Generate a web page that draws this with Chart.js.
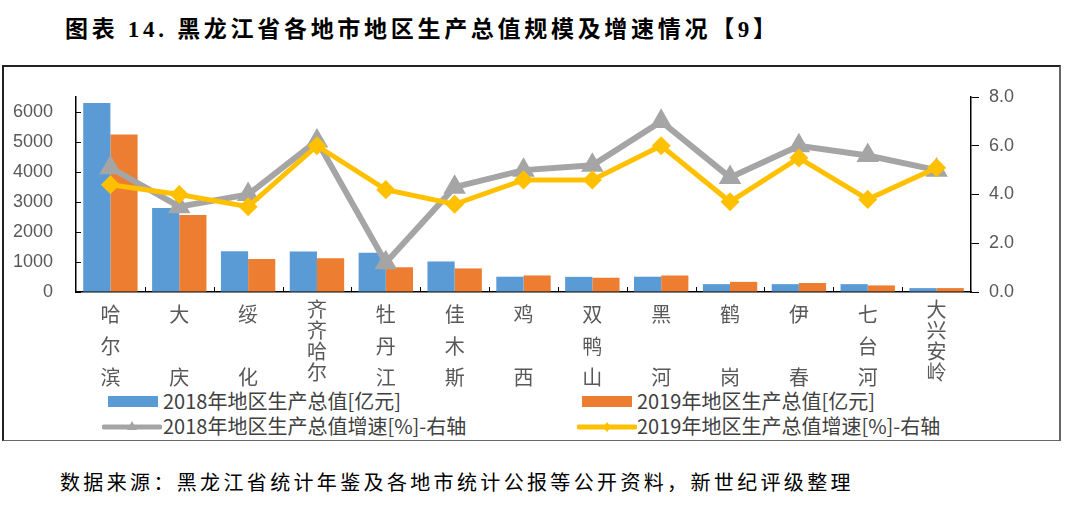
<!DOCTYPE html>
<html>
<head>
<meta charset="utf-8">
<title></title>
<script src="https://cdn.jsdelivr.net/npm/chart.js"></script>
<style>
  body { margin: 0; background: #fff; width: 1080px; height: 518px; position: relative; overflow: hidden; }
  .title { position: absolute; left: 65px; top: 10px; font: bold 23px "Liberation Serif", "Noto Sans CJK SC"; letter-spacing: 3.7px; color: #000; white-space: nowrap; }
  .frame { position: absolute; left: 2px; top: 65px; width: 1055px; height: 373px; border-top: 2px solid #222; border-left: 2px solid #222; border-right: 2px solid #666; border-bottom: 1.5px solid #666; }
  .lg { position: absolute; font: 20px "Noto Sans CJK SC"; color: #404040; white-space: nowrap; line-height: 24px; }
  .sw { position: absolute; }
  .source { position: absolute; left: 60px; top: 467px; font: 20px "Noto Sans CJK SC"; letter-spacing: 3.35px; color: #000; white-space: nowrap; }
  #wrap { position: absolute; left: 0; top: 0; width: 1080px; height: 518px; }
</style>
</head>
<body>
<div class="title">图表 14. 黑龙江省各地市地区生产总值规模及增速情况【9】</div>
<div class="frame"></div>

<div class="sw" style="left:108px;top:396px;width:50px;height:11px;background:#5B9BD5"></div>
<div class="lg" style="left:163px;top:389px">2018年地区生产总值[亿元]</div>
<div class="sw" style="left:582px;top:396px;width:50px;height:11px;background:#ED7D31"></div>
<div class="lg" style="left:637px;top:389px">2019年地区生产总值[亿元]</div>

<svg class="sw" style="left:102px;top:418px" width="60" height="18">
  <line x1="2" y1="9" x2="58" y2="9" stroke="#A5A5A5" stroke-width="5" stroke-linecap="round"/>
  <polygon points="30,3 35,12 25,12" fill="#A5A5A5"/>
</svg>
<div class="lg" style="left:163px;top:414px">2018年地区生产总值增速[%]-右轴</div>
<svg class="sw" style="left:577px;top:418px" width="60" height="18">
  <line x1="2" y1="9" x2="58" y2="9" stroke="#FFC000" stroke-width="5" stroke-linecap="round"/>
  <polygon points="30,4 34,9 30,14 26,9" fill="#FFC000"/>
</svg>
<div class="lg" style="left:637px;top:414px">2019年地区生产总值增速[%]-右轴</div>

<div class="source">数据来源：黑龙江省统计年鉴及各地市统计公报等公开资料，新世纪评级整理</div>

<div id="wrap"><canvas id="myChart" width="1080" height="518"></canvas></div>

<script>
    var cities = ['哈尔滨', '大庆', '绥化', '齐齐哈尔', '牡丹江', '佳木斯', '鸡西', '双鸭山', '黑河', '鹤岗', '伊春', '七台河', '大兴安岭'];
    var gdp2018 = [6300, 2801, 1357, 1350, 1310, 1018, 510, 505, 510, 262, 262, 262, 130];
    var gdp2019 = [5249, 2568, 1101, 1129, 824, 786, 552, 476, 550, 338, 300, 219, 130];
    var growth2018 = [5.1, 3.5, 4.0, 6.2, 1.2, 4.3, 5.0, 5.2, 7.0, 4.7, 6.0, 5.6, 5.0];
    var growth2019 = [4.4, 4.0, 3.5, 6.0, 4.2, 3.6, 4.6, 4.6, 6.0, 3.7, 5.5, 3.8, 5.1];
    var leftTicks = [0, 1000, 2000, 3000, 4000, 5000, 6000];
    var rightTicks = [0, 2, 4, 6, 8];

    // excel style vertical category labels
    function vertical(name) {
      var c = name.split('');
      return c.length === 2 ? [c[0], '', c[1]] : c;
    }
    var labels = cities.map(vertical);

    // small tick marks pointing into the plot
    var innerTicks = {
      id: 'innerTicks',
      beforeDatasetsDraw: function(chart) {
        var ctx = chart.ctx, a = chart.chartArea, x = chart.scales.x, y = chart.scales.y;
        ctx.save();
        ctx.strokeStyle = '#000';
        ctx.lineWidth = 1;
        ctx.beginPath();
        leftTicks.forEach(function(v) {
          var py = Math.round(y.getPixelForValue(v)) + 0.5;
          ctx.moveTo(a.left, py); ctx.lineTo(a.left + 5, py);
        });
        for (var i = 1; i < cities.length; i++) {
          var px = Math.round((x.getPixelForValue(i - 1) + x.getPixelForValue(i)) / 2) + 0.5;
          ctx.moveTo(px, a.bottom); ctx.lineTo(px, a.bottom - 5);
        }
        ctx.stroke();
        ctx.restore();
      }
    };

    var ctx = document.getElementById('myChart').getContext('2d');
    var chart = new Chart(ctx, {
      type: 'bar',
      data: {
        labels: labels,
        datasets: [{
          type: 'line',
          label: '2019年地区生产总值增速[%]-右轴',
          data: growth2019,
          yAxisID: 'y1',
          borderColor: '#FFC000',
          backgroundColor: '#FFC000',
          borderWidth: 5,
          pointStyle: 'rectRot',
          pointRadius: 6,
          tension: 0,
          order: 0
        }, {
          type: 'line',
          label: '2018年地区生产总值增速[%]-右轴',
          data: growth2018,
          yAxisID: 'y1',
          borderColor: '#A5A5A5',
          backgroundColor: '#A5A5A5',
          borderWidth: 6,
          pointStyle: 'triangle',
          pointRadius: 7,
          tension: 0,
          order: 1
        }, {
          label: '2018年地区生产总值[亿元]',
          data: gdp2018,
          yAxisID: 'y',
          backgroundColor: '#5B9BD5',
          categoryPercentage: 0.79,
          barPercentage: 1.0,
          order: 2
        }, {
          label: '2019年地区生产总值[亿元]',
          data: gdp2019,
          yAxisID: 'y',
          backgroundColor: '#ED7D31',
          categoryPercentage: 0.79,
          barPercentage: 1.0,
          order: 3
        }]
      },
      options: {
        responsive: false,
        animation: false,
        events: [],
        layout: { padding: { left: 0, right: 49, top: 97, bottom: 116 } },
        plugins: { legend: { display: false }, tooltip: { enabled: false } },
        scales: {
          x: {
            offset: true,
            grid: { display: true, drawOnChartArea: false, drawTicks: false, offset: true, color: 'rgba(0,0,0,0)' },
            border: { display: true, color: '#000', width: 1.5 },
            ticks: {
              autoSkip: false,
              maxRotation: 0,
              minRotation: 0,
              padding: 7,
              color: '#595959',
              font: function(c) {
                var n = cities[c.index] ? cities[c.index].length : 3;
                return { family: 'Noto Sans CJK SC', size: 20, lineHeight: n === 4 ? '21px' : '31.5px' };
              }
            },
            afterFit: function(s) { s.height = 110; }
          },
          y: {
            position: 'left',
            min: 0,
            max: 6500,
            grid: { display: true, drawOnChartArea: false, drawTicks: false, color: 'rgba(0,0,0,0)' },
            border: { display: true, color: '#000', width: 1.5 },
            ticks: {
              padding: 23,
              color: '#595959',
              font: { family: 'Liberation Sans', size: 18 },
              callback: function(v) { return String(v); }
            },
            afterBuildTicks: function(s) { s.ticks = leftTicks.map(function(v) { return { value: v }; }); },
            afterFit: function(s) { s.width = 76; }
          },
          y1: {
            position: 'right',
            min: 0,
            max: 8,
            grid: { display: true, drawOnChartArea: false, drawTicks: true, tickLength: 8, color: '#000', lineWidth: 1 },
            border: { display: true, color: '#000', width: 1.5 },
            ticks: {
              padding: 10,
              color: '#595959',
              font: { family: 'Liberation Sans', size: 18 },
              callback: function(v) { return Number(v).toFixed(1); }
            },
            afterBuildTicks: function(s) { s.ticks = rightTicks.map(function(v) { return { value: v }; }); },
            afterFit: function(s) { s.width = 60; }
          }
        }
      },
      plugins: [innerTicks]
    });
</script>
</body>
</html>
